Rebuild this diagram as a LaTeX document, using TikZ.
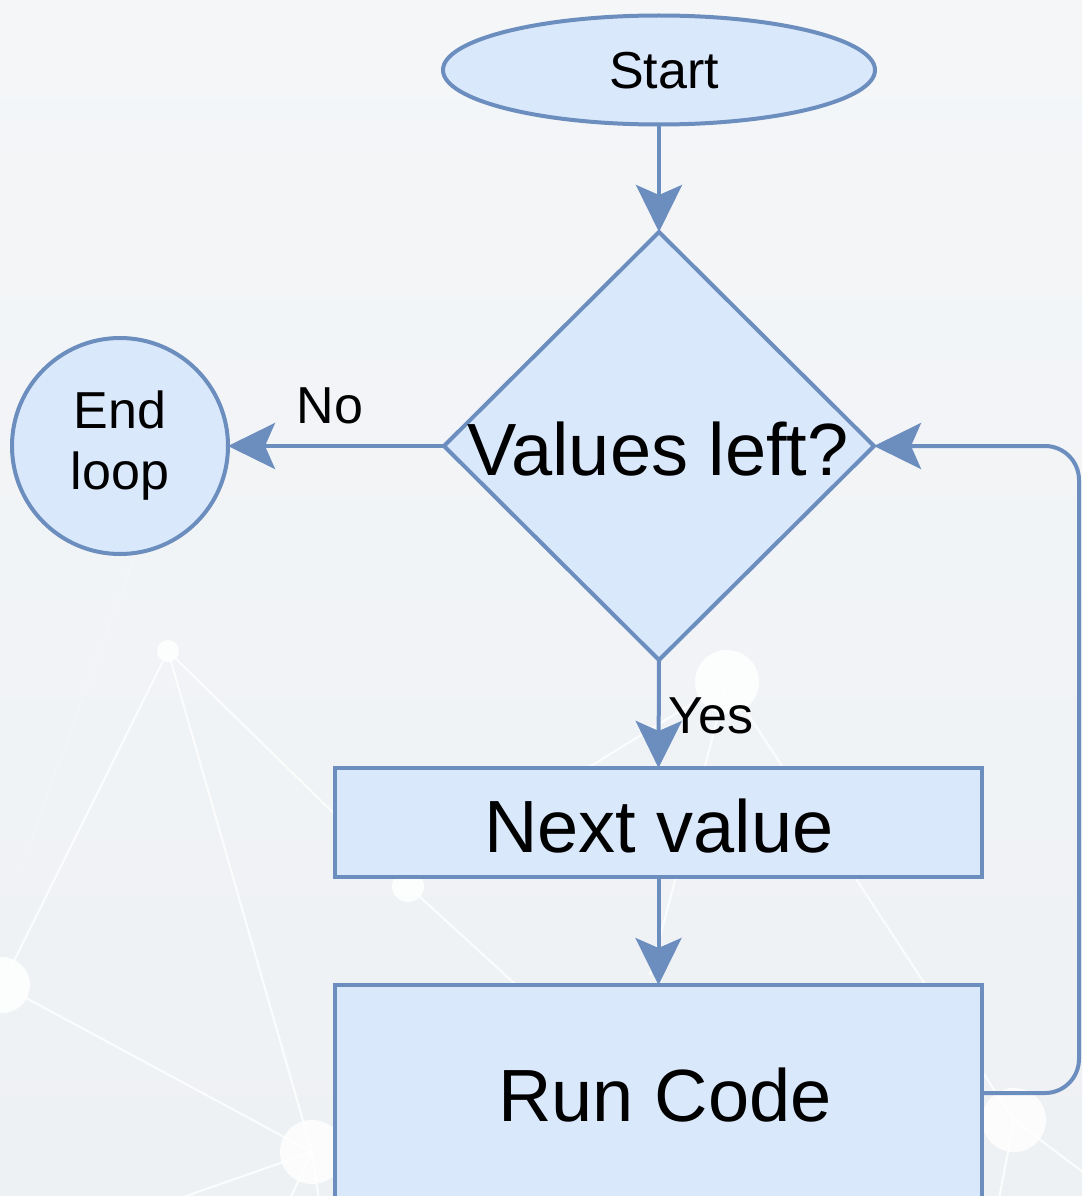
\documentclass[tikz,border=0pt]{standalone}
\usepackage{fontspec}
\setmainfont{Liberation Sans}
\usetikzlibrary{arrows.meta,shapes.geometric}
\definecolor{stk}{HTML}{6C8EBF}
\definecolor{fil}{HTML}{DAE8FC}
\definecolor{bgtop}{HTML}{F4F6F8}
\definecolor{bgbot}{HTML}{EEF1F4}
\begin{document}
\begin{tikzpicture}[x=1pt,y=-1pt,
  shp/.style={draw=stk,fill=fil,line width=4pt,inner sep=0pt,outer sep=0pt},
  big/.style={font=\fontsize{74}{82}\selectfont},
  small/.style={font=\fontsize{52}{61}\selectfont},
  conn/.style={draw=stk,line width=4pt,-{Stealth[length=47pt,width=46pt,inset=10pt]}},
  deco/.style={draw=white,line width=2pt,opacity=0.8},
  dot/.style={fill=white,opacity=0.85}]
\useasboundingbox (0,0) rectangle (1082,1196);
\shade[top color=bgtop,bottom color=bgbot] (0,0) rectangle (1082,1196);
% background network
\begin{scope}
\clip (0,0) rectangle (1082,1196);
\draw[deco] (168,651) -- (2,985);
\draw[deco] (168,651) -- (312,1152);
\draw[deco] (168,651) -- (408,886);
\draw[deco] (408,886) -- (620,1080);
\draw[deco] (2,985) -- (312,1152);
\draw[deco] (312,1152) -- (60,1240);
\draw[deco] (312,1152) -- (280,1220);
\draw[deco] (312,1152) -- (322,1220);
\draw[deco] (727,682) -- (1014,1120);
\draw[deco] (727,682) -- (650,975);
\draw[deco] (727,682) -- (560,785);
\draw[deco] (1014,1120) -- (1100,1185);
\draw[deco] (1014,1120) -- (995,1220);
\draw[deco,opacity=0.15] (133,560) -- (20,870);
\fill[dot] (168,651) circle[radius=11pt];
\fill[dot] (2,985) circle[radius=28pt];
\fill[dot] (312,1152) circle[radius=32pt];
\fill[dot] (408,886) circle[radius=16pt];
\fill[dot] (727,682) circle[radius=32pt];
\fill[dot] (1014,1120) circle[radius=32pt];
\end{scope}
% nodes
\node[shp,ellipse,minimum width=432pt,minimum height=109pt] (start) at (659,70) {};
\node[small,inner sep=0pt] (starttext) at (664,71) {Start};
\node[shp,diamond,minimum width=430pt,minimum height=428pt] (dec) at (659,446) {};
\node[big,inner sep=0pt] (dectext) at (658,449) {Values left?};
\node[shp,circle,minimum size=216pt,small,align=center] (end) at (120,446) {End\\loop};
\node[shp,rectangle,minimum width=647pt,minimum height=109pt] (next) at (658.5,822.5) {};
\node[big,inner sep=0pt] (nexttext) at (659,826) {Next value};
\node[shp,rectangle,minimum width=647pt,minimum height=216pt] (run) at (658.5,1093) {};
\node[big,inner sep=0pt] (runtext) at (665,1095) {Run Code};
\node[small,inner sep=0pt] (nolab) at (330,406) {No};
\node[small,inner sep=0pt,anchor=west] (yeslab) at (668,716) {Yes};
\coordinate (lt) at (1079,446);
% connectors
\draw[conn] (start.south) -- (dec.north);
\draw[conn] (dec.west) -- (end.east);
\draw[conn] (dec.south) -- (next.north);
\draw[conn] (next.south) -- (run.north);
\draw[conn] (run.east) [rounded corners=34pt] -- (run.east -| lt) -- (lt) [sharp corners] -- (dec.east);
\end{tikzpicture}
\end{document}
